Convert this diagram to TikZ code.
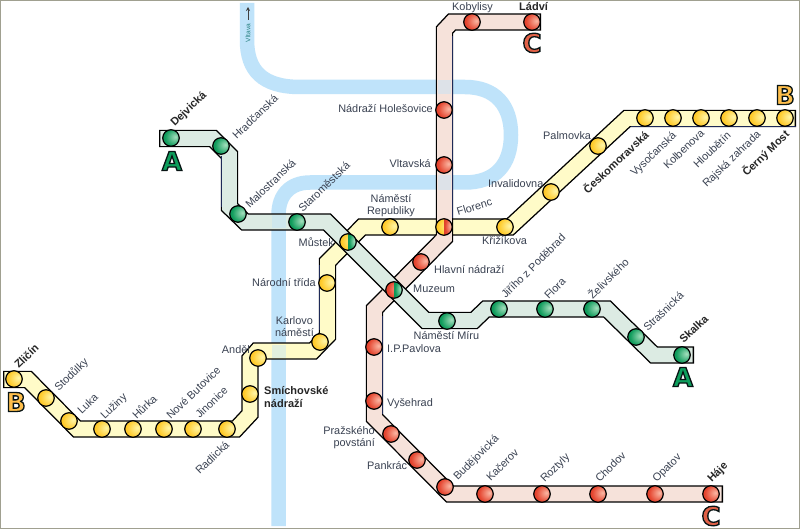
\documentclass[tikz,border=0pt]{standalone}
\usepackage{fontspec}
\setmainfont{Liberation Sans}
\newfontface\bigfont{DejaVu Sans Bold}
\usetikzlibrary{arrows.meta}
\definecolor{rivercol}{HTML}{BFE3FA}
\definecolor{inka}{HTML}{DCEBE3}
\definecolor{inkb}{HTML}{FFFBC8}
\definecolor{inkc}{HTML}{F6E2DA}
\definecolor{navy}{HTML}{1E2A58}
\definecolor{txt}{HTML}{3A4252}
\definecolor{edgegray}{HTML}{A0A090}
\definecolor{gcA}{HTML}{A6E0BE}\definecolor{gcB}{HTML}{109C5C}\definecolor{gcC}{HTML}{067A45}
\definecolor{ycA}{HTML}{FFF6A8}\definecolor{ycB}{HTML}{FFCB2C}\definecolor{ycC}{HTML}{F6A800}
\definecolor{rcA}{HTML}{FBB8A4}\definecolor{rcB}{HTML}{E5452F}\definecolor{rcC}{HTML}{C83020}
\pgfdeclareradialshading{gball}{\pgfpoint{14bp}{4bp}}{color(0bp)=(gcA);color(26bp)=(gcB);color(55bp)=(gcC)}
\pgfdeclareradialshading{yball}{\pgfpoint{14bp}{4bp}}{color(0bp)=(ycA);color(26bp)=(ycB);color(55bp)=(ycC)}
\pgfdeclareradialshading{rball}{\pgfpoint{14bp}{4bp}}{color(0bp)=(rcA);color(26bp)=(rcB);color(55bp)=(rcC)}
\newcommand{\outl}[2]{\special{pdf:code #1 rg 0.03 0.08 0.08 RG 2 Tr 1.3 w}#2\special{pdf:code 0 Tr}}
\tikzset{
  st/.style={circle,draw=black,line width=1.2pt,minimum size=16.5pt,inner sep=0pt},
  gst/.style={st,shading=gball},
  yst/.style={st,shading=yball},
  rst/.style={st,shading=rball},
  duo/.style 2 args={st,path picture={
    \shade[shading=#1] (path picture bounding box.south west) rectangle (path picture bounding box.north);
    \shade[shading=#2] (path picture bounding box.south) rectangle (path picture bounding box.north east);}},
  casing/.style={draw=black,line width=17.4pt,line join=miter},
  bandfill/.style={line width=14.6pt,line join=miter,shorten >=1.4pt,shorten <=1.4pt},
  lab/.style={font=\fontsize{10.9}{12.2}\selectfont,text=txt,inner sep=0pt},
  blab/.style={font=\fontsize{11}{12.2}\selectfont\bfseries,text=black!85,inner sep=0pt},
  rl/.style={anchor=base west,xshift=-1pt,yshift=-2pt},
  navyedge/.style={draw=navy,line width=1.5pt},
  crossing/.style={fill=rivercol,opacity=.45},
  bigletter/.style={font=\fontsize{26}{28}\bigfont,inner sep=0pt},
}
\begin{document}
\begin{tikzpicture}[x=1pt,y=-1pt]
\useasboundingbox (0,0) rectangle (800,529);
\fill[white] (0,0) rectangle (800,529);
\draw[edgegray,line width=2pt] (0,0) rectangle (800,529);
% river
\draw[rivercol,line width=14.5pt] (247,3) -- (247,40) .. controls (247,70) and (262,87) .. (300,87) -- (465,87) .. controls (495,87) and (511,105) .. (511,135) .. controls (511,165) and (495,182.5) .. (465,182.5) -- (310,182.5) .. controls (290,182.5) and (278.5,195) .. (278.5,215) -- (278.5,526);
\node[font=\fontsize{6.6}{8}\selectfont,text=teal!70!gray,rotate=90,inner sep=0pt] (vlt) at (248,33) {Vltava};
\coordinate (ar1) at (248,20); \coordinate (ar2) at (248,7);
\draw[-{Stealth[length=4pt,width=4pt]},line width=0.8pt,black!75] (ar1) -- (ar2);
% line B
\draw[casing] (3,379.5) -- (28,379.5) -- (77,429) -- (236,429) -- (250,414) -- (250,359) -- (257,351) -- (313,351) -- (327.5,336) -- (327.5,262) -- (362,227) -- (510,227) -- (627,118.5) -- (796,118.5);
\draw[inkb,bandfill] (3,379.5) -- (28,379.5) -- (77,429) -- (236,429) -- (250,414) -- (250,359) -- (257,351) -- (313,351) -- (327.5,336) -- (327.5,262) -- (362,227) -- (510,227) -- (627,118.5) -- (796,118.5);
% line C
\draw[casing] (541,22) -- (452,22) -- (444.5,30) -- (444.5,238) -- (374.5,309) -- (374.5,418) -- (450,494) -- (723,494);
\draw[inkc,bandfill] (541,22) -- (452,22) -- (444.5,30) -- (444.5,238) -- (374.5,309) -- (374.5,418) -- (450,494) -- (723,494);
% line A
\draw[casing] (159,138.5) -- (213,138.5) -- (229.5,155) -- (229.5,207) -- (245,222) -- (327,222) -- (425.5,320.5) -- (474,320.5) -- (486,309) -- (607,309) -- (654,355) -- (694,355);
\draw[inka,bandfill] (159,138.5) -- (213,138.5) -- (229.5,155) -- (229.5,207) -- (245,222) -- (327,222) -- (425.5,320.5) -- (474,320.5) -- (486,309) -- (607,309) -- (654,355) -- (694,355);
% river seen through the bands
\fill[crossing] (271.5,215.5) rectangle (285.5,228.5);
\fill[crossing] (271.5,344.5) rectangle (285.5,357.5);
\fill[crossing] (438,80) rectangle (451,94);
\fill[crossing] (438,175.5) rectangle (451,190);
% blue-toned edges
\draw[navyedge] (221.5,156) -- (221.5,207);
\draw[navyedge] (319.5,265) -- (319.5,330);
\draw[navyedge] (382.5,316) -- (382.5,414);
\draw[navyedge] (452.5,36) -- (452.5,218);
\draw[navyedge] (631,126.7) -- (796,126.7);
% stations A
\node[gst] (dej) at (171,138) {};
\node[gst] (hra) at (221,146) {};
\node[gst] (mal) at (238,214) {};
\node[gst] (sta) at (297,222) {};
\node[duo={yball}{gball}] (mus) at (348,242) {};
\node[duo={rball}{gball}] (muz) at (394,290) {};
\node[gst] (nmi) at (447,321) {};
\node[gst] (jir) at (499,309) {};
\node[gst] (flo) at (545,309) {};
\node[gst] (zel) at (592,309) {};
\node[gst] (str) at (636,337) {};
\node[gst] (ska) at (682,355) {};
% stations B
\node[yst] (zli) at (14,379) {};
\node[yst] (sto) at (46,398) {};
\node[yst] (luk) at (69,421) {};
\node[yst] (luz) at (102,429) {};
\node[yst] (hur) at (133,429) {};
\node[yst] (nbu) at (164,429) {};
\node[yst] (jin) at (193,429) {};
\node[yst] (rad) at (227,429) {};
\node[yst] (smi) at (250,394) {};
\node[yst] (and) at (258,358) {};
\node[yst] (kar) at (320,342) {};
\node[yst] (nar) at (327,283) {};
\node[yst] (nre) at (390,227) {};
\node[duo={yball}{rball}] (fle) at (444,227) {};
\node[yst] (kri) at (505,227) {};
\node[yst] (inv) at (551,192) {};
\node[yst] (pal) at (598,146) {};
\node[yst] (ces) at (645,118) {};
\node[yst] (vys) at (673,118) {};
\node[yst] (kol) at (701,118) {};
\node[yst] (hlo) at (729,118) {};
\node[yst] (raj) at (757,118) {};
\node[yst] (cer) at (785,118) {};
% stations C
\node[rst] (kob) at (472,22) {};
\node[rst] (lad) at (532,22) {};
\node[rst] (hol) at (444,110) {};
\node[rst] (vlv) at (444,165) {};
\node[rst] (hln) at (421,262) {};
\node[rst] (ipp) at (374,347) {};
\node[rst] (vyh) at (374,401) {};
\node[rst] (pra) at (391,434) {};
\node[rst] (pan) at (417,460) {};
\node[rst] (bud) at (445,487) {};
\node[rst] (kac) at (485,494) {};
\node[rst] (roz) at (542,494) {};
\node[rst] (cho) at (598,494) {};
\node[rst] (opa) at (655,494) {};
\node[rst] (haj) at (711,494) {};
% labels A
\node[blab,rotate=44,rl] (tdej) at (174,125) {Dejvická};
\node[lab,rotate=44,rl] (thra) at (236,138) {Hradčanská};
\node[lab,rotate=44,rl] (tmal) at (249,207) {Malostranská};
\node[lab,rotate=44,rl] (tsta) at (302,211) {Staroměstská};
\node[lab,anchor=base east] (tmus) at (334,247) {Můstek};
\node[lab,anchor=base west] (tmuz) at (413,292) {Muzeum};
\node[lab,anchor=base west] (tnmi) at (413.5,339) {Náměstí Míru};
\node[lab,rotate=45,rl] (tjir) at (505,297) {Jiřího z Poděbrad};
\node[lab,rotate=45,rl] (tflo) at (548,298) {Flora};
\node[lab,rotate=45,rl] (tzel) at (592,298) {Želivského};
\node[lab,rotate=44,rl] (tstr) at (647,330) {Strašnická};
\node[blab,rotate=44,rl] (tska) at (683,342) {Skalka};
% labels B
\node[blab,rotate=44,rl] (tzli) at (18,367) {Zličín};
\node[lab,rotate=44,rl] (tsto) at (58,390) {Stodůlky};
\node[lab,rotate=44,rl] (tluk) at (81,413) {Luka};
\node[lab,rotate=44,rl] (tluz) at (104,418) {Lužiny};
\node[lab,rotate=44,rl] (thur) at (136,418) {Hůrka};
\node[lab,rotate=44,rl] (tnbu) at (170,418) {Nové Butovice};
\node[lab,rotate=44,rl] (tjin) at (199,417) {Jinonice};
\node[lab,rotate=44,rl] (trad) at (199,473) {Radlická};
\node[blab,anchor=west,align=left] (tsmi) at (264,397) {Smíchovské\\nádraží};
\node[lab,anchor=base east] (tand) at (250,353) {Anděl};
\node[lab,anchor=east,align=center] (tkar) at (314,327) {Karlovo\\náměstí};
\node[lab,anchor=base east] (tnar) at (316,287) {Národní třída};
\node[lab,align=center] (tnre) at (391,205.5) {Náměstí\\Republiky};
\node[lab,rotate=17,anchor=base west] (tfle) at (458,216) {Florenc};
\node[lab,anchor=base west] (tkri) at (482,245) {Křižíkova};
\node[lab,anchor=base west] (tinv) at (488,188) {Invalidovna};
\node[lab,anchor=base west] (tpal) at (543,140) {Palmovka};
\node[blab,rotate=43,rl] (tces) at (587,192) {Českomoravská};
\node[lab,rotate=44,rl] (tvys) at (634,175) {Vysočanská};
\node[lab,rotate=44,rl] (tkol) at (667,168) {Kolbenova};
\node[lab,rotate=44,rl] (thlo) at (697,167) {Hloubětín};
\node[lab,rotate=44,rl] (traj) at (706,186) {Rajská zahrada};
\node[blab,rotate=44,rl] (tcer) at (746,175) {Černý Most};
% labels C
\node[lab,anchor=base west] (tkob) at (452,11) {Kobylisy};
\node[blab,anchor=base west] (tlad) at (519,11) {Ládví};
\node[lab,anchor=base east] (thol) at (433,113) {Nádraží Holešovice};
\node[lab,anchor=base east] (tvlv) at (431,168) {Vltavská};
\node[lab,anchor=base west] (thln) at (434,273) {Hlavní nádraží};
\node[lab,anchor=base west] (tipp) at (387,352) {I.P.Pavlova};
\node[lab,anchor=base west] (tvyh) at (387,406) {Vyšehrad};
\node[lab,anchor=east,align=right] (tpra) at (375,438) {Pražského\\povstání};
\node[lab,anchor=base west] (tpan) at (367,469) {Pankrác};
\node[lab,rotate=45,rl] (tbud) at (457,479) {Budějovická};
\node[lab,rotate=45,rl] (tkac) at (490,480) {Kačerov};
\node[lab,rotate=45,rl] (troz) at (544,481) {Roztyly};
\node[lab,rotate=45,rl] (tcho) at (599,481) {Chodov};
\node[lab,rotate=45,rl] (topa) at (656,481) {Opatov};
\node[blab,rotate=45,rl] (thaj) at (711,481) {Háje};
% line letters
\node[bigletter] (la1) at (172,161) {\outl{0.05 0.62 0.36}{A}};
\node[bigletter] (la2) at (683,377) {\outl{0.05 0.62 0.36}{A}};
\node[bigletter] (lb1) at (785,95) {\outl{1 0.75 0.3}{B}};
\node[bigletter] (lb2) at (16,402) {\outl{1 0.75 0.3}{B}};
\node[bigletter] (lc1) at (532,43) {\outl{0.88 0.38 0.28}{C}};
\node[bigletter] (lc2) at (711,516) {\outl{0.88 0.38 0.28}{C}};
\end{tikzpicture}
\end{document}
